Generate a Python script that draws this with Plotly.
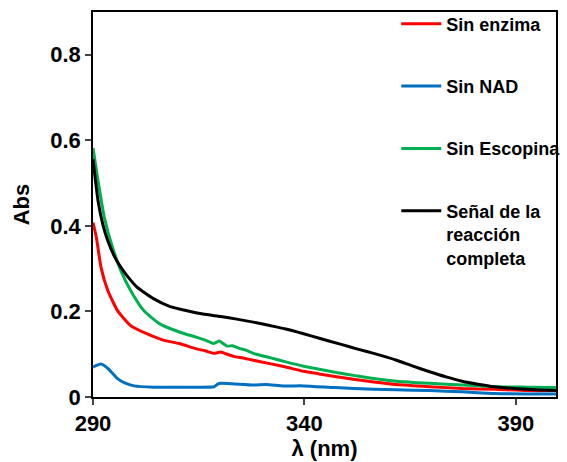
import plotly.graph_objects as go

# Sin enzima (red)
x_red = [290, 290.8, 291.9, 293.5, 295.8, 298.9, 302.7, 306.6, 310.4, 314.3, 316.5, 318.6, 320.2, 321.7,
         323.3, 325.5, 327.9, 331.8, 335.6, 339.8, 343.5, 347.2, 352, 356.4, 361.8, 369.6, 377.3, 385, 392.7, 399.5]
y_red = [0.408, 0.373, 0.303, 0.249, 0.202, 0.167, 0.148, 0.133, 0.125, 0.113, 0.108, 0.102, 0.105, 0.100,
         0.095, 0.091, 0.086, 0.078, 0.070, 0.060, 0.054, 0.048, 0.041, 0.035, 0.029, 0.024, 0.020, 0.018, 0.015, 0.015]

# Sin NAD (blue)
x_blue = [290, 291.9, 293.5, 295.8, 297.5, 299.7, 304.3, 310, 314.3, 318.6, 319.5, 320.2, 323, 327.9, 331,
          335, 339.8, 347.2, 356.4, 361.8, 369.6, 377.3, 385, 392.7, 399.5]
y_blue = [0.070, 0.077, 0.067, 0.043, 0.033, 0.026, 0.023, 0.023, 0.023, 0.024, 0.030, 0.032, 0.031, 0.028, 0.029,
          0.026, 0.026, 0.022, 0.018, 0.017, 0.015, 0.012, 0.008, 0.007, 0.007]

# Sin Escopina (green)
x_green = [290, 291.2, 292.7, 294.6, 296.6, 298.9, 302, 305.8, 310.4, 314.3, 316.5, 318.6, 319.8, 321.7, 323,
           324.8, 326, 327.9, 331.8, 335.6, 339.8, 343.5, 347.2, 352, 356.4, 361.8, 369.6, 377.3, 385, 392.7, 399.5]
y_green = [0.582, 0.505, 0.419, 0.350, 0.295, 0.249, 0.202, 0.171, 0.152, 0.140, 0.133, 0.125, 0.131, 0.119, 0.120,
           0.113, 0.110, 0.102, 0.092, 0.082, 0.072, 0.065, 0.058, 0.050, 0.043, 0.037, 0.032, 0.028, 0.024, 0.023, 0.022]

# Señal de la reacción completa (black)
x_black = [290, 291.2, 292.3, 293.5, 295, 296.6, 298.5, 300.4, 304.3, 308.1, 312.5, 316, 320.2, 324, 327.9,
           331.8, 335.6, 339.8, 343.3, 348.7, 352.6, 356.4, 361.8, 365.7, 369.6, 373.5, 377.3, 381, 385, 392.7, 399.5]
y_black = [0.556, 0.458, 0.404, 0.365, 0.330, 0.303, 0.278, 0.257, 0.230, 0.212, 0.201, 0.194, 0.188, 0.182, 0.175,
           0.167, 0.159, 0.148, 0.138, 0.123, 0.112, 0.102, 0.086, 0.072, 0.059, 0.047, 0.037, 0.030, 0.024, 0.018, 0.015]

names = ["Sin enzima", "Sin NAD", "Sin Escopina", "Señal de la<br>reacción<br>completa"]
colors = ["#FF0000", "#0070C0", "#00B050", "#000000"]
xs = [x_red, x_blue, x_green, x_black]
ys = [y_red, y_blue, y_green, y_black]

x_ticks = [290, 340, 390]
y_ticks = [0, 0.2, 0.4, 0.6, 0.8]

fig = go.Figure()
for i, (xv, yv, n, c) in enumerate(zip(xs, ys, names, colors)):
    fig.add_trace(go.Scatter(x=xv, y=yv, name=n, mode="lines", legendgroup=f"g{i}",
                             line=dict(color=c, width=3, shape="spline", smoothing=0.5)))

FONT = "Liberation Sans, Arial, sans-serif"
fig.update_layout(
    width=567, height=462,
    margin=dict(l=93, r=1, t=12, b=65),
    paper_bgcolor="white", plot_bgcolor="white",
    font=dict(family=FONT, color="black"),
    showlegend=True,
    legend=dict(x=0.655, y=1.017, xanchor="left", yanchor="top",
                bgcolor="rgba(0,0,0,0)", borderwidth=0, maxheight=460,
                font=dict(family=FONT, size=18, color="black", weight="bold"),
                tracegroupgap=36, valign="top", itemwidth=40),
)
fig.update_xaxes(range=[290, 399.5], tickvals=x_ticks, ticks="outside", ticklen=6, tickwidth=1.5,
                 showline=True, linecolor="black", linewidth=1.5, mirror=True, showgrid=False, zeroline=False,
                 tickfont=dict(family=FONT, size=22, weight="bold"),
                 title=dict(text="λ (nm)", font=dict(family=FONT, size=22, weight="bold"), standoff=0))
fig.update_yaxes(range=[0, 0.9], tickvals=y_ticks, ticks="outside", ticklen=6, tickwidth=1.5,
                 showline=True, linecolor="black", linewidth=1.5, mirror=True, showgrid=False, zeroline=False,
                 tickfont=dict(family=FONT, size=22, weight="bold"),
                 title=dict(text="Abs", font=dict(family=FONT, size=22, weight="bold"), standoff=15))
fig.write_html("out.html")
